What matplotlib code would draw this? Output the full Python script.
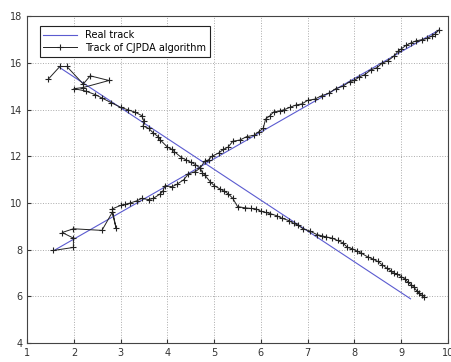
import numpy as np
import matplotlib
matplotlib.use('Agg')
import matplotlib.pyplot as plt

# real tracks of the two targets (straight lines)
real1_x = [1.6, 9.8]
real1_y = [8.0, 17.4]
real2_x = [1.7, 9.2]
real2_y = [15.8, 5.9]

# CJPDA estimated track, target 1 (going up)
trk1_x = [1.56, 1.99, 1.99, 1.75, 1.99, 2.6, 2.82, 2.9, 2.82, 3.0, 3.1, 3.2, 3.35, 3.45, 3.6,
          3.7, 3.85, 3.9, 3.95, 4.1, 4.2, 4.35, 4.45, 4.6, 4.7, 4.8, 4.88, 4.95, 5.1, 5.2,
          5.3, 5.4, 5.55, 5.7, 5.85, 5.95, 6.05, 6.1, 6.2, 6.27, 6.4, 6.5, 6.62, 6.75, 6.88,
          7.0, 7.15, 7.3, 7.45, 7.6, 7.75, 7.9, 8.0, 8.1, 8.22, 8.35, 8.48, 8.6, 8.72, 8.85,
          8.93, 9.0, 9.1, 9.2, 9.32, 9.45, 9.55, 9.65, 9.73, 9.8]
trk1_y = [7.97, 8.1, 8.5, 8.74, 8.9, 8.83, 9.6, 8.95, 9.75, 9.9, 9.95, 10.0, 10.1, 10.2, 10.15,
          10.2, 10.4, 10.5, 10.75, 10.7, 10.8, 11.0, 11.25, 11.35, 11.5, 11.8, 11.85, 12.0, 12.15, 12.3,
          12.4, 12.65, 12.7, 12.85, 12.9, 13.05, 13.2, 13.6, 13.75, 13.9, 13.95, 14.0, 14.1, 14.2, 14.25,
          14.4, 14.45, 14.6, 14.7, 14.9, 15.0, 15.2, 15.25, 15.4, 15.5, 15.7, 15.8, 16.0, 16.1, 16.3,
          16.5, 16.6, 16.75, 16.85, 16.95, 17.0, 17.05, 17.15, 17.25, 17.4]

# CJPDA estimated track, target 2 (going down)
trk2_x = [1.45, 1.7, 1.85, 2.2, 2.35, 2.75, 2.2, 2.0, 2.25, 2.45, 2.6, 2.8, 3.0, 3.15, 3.3,
          3.45, 3.5, 3.48, 3.6, 3.7, 3.8, 3.85, 4.0, 4.1, 4.15, 4.3, 4.4, 4.5, 4.6, 4.7,
          4.75, 4.8, 4.92, 5.0, 5.13, 5.22, 5.3, 5.4, 5.5, 5.65, 5.78, 5.9, 6.0, 6.1, 6.2,
          6.35, 6.45, 6.6, 6.7, 6.8, 6.9, 7.05, 7.2, 7.3, 7.4, 7.52, 7.64, 7.75, 7.85, 7.95,
          8.05, 8.15, 8.28, 8.4, 8.5, 8.6, 8.7, 8.78, 8.84, 8.92, 9.0, 9.08, 9.15, 9.22,
          9.27, 9.33, 9.38, 9.44, 9.48]
trk2_y = [15.3, 15.85, 15.85, 15.1, 15.45, 15.25, 14.95, 14.9, 14.8, 14.65, 14.5, 14.3, 14.1, 14.0, 13.9,
          13.75, 13.5, 13.3, 13.2, 13.0, 12.85, 12.7, 12.4, 12.3, 12.2, 11.95, 11.85, 11.75, 11.65, 11.5,
          11.3, 11.2, 10.9, 10.75, 10.6, 10.5, 10.4, 10.2, 9.85, 9.8, 9.77, 9.75, 9.65, 9.6, 9.55,
          9.45, 9.35, 9.25, 9.13, 9.05, 8.9, 8.8, 8.65, 8.6, 8.55, 8.5, 8.4, 8.3, 8.1, 8.05,
          7.95, 7.85, 7.7, 7.6, 7.5, 7.35, 7.2, 7.1, 7.0, 6.95, 6.85, 6.75, 6.6, 6.5,
          6.4, 6.25, 6.15, 6.05, 5.97]

fig = plt.figure(figsize=(4.52, 3.62), dpi=100)
ax = fig.add_axes([0.06, 0.052, 0.931, 0.903])

ax.plot(real1_x, real1_y, color='#5b5bd0', linewidth=0.8, label='Real track')
ax.plot(real2_x, real2_y, color='#5b5bd0', linewidth=0.8)
ax.plot(trk1_x, trk1_y, '-+', color='#222222', linewidth=0.7, markersize=5,
        markeredgewidth=0.8, label='Track of CJPDA algorithm')
ax.plot(trk2_x, trk2_y, '-+', color='#222222', linewidth=0.7, markersize=5,
        markeredgewidth=0.8)

ax.set_xlim(1, 10)
ax.set_ylim(4, 18)
ax.set_xticks(np.arange(1, 11, 1))
ax.set_yticks(np.arange(4, 19, 2))
ax.tick_params(direction='in', labelsize=7, colors='#333333', length=3)
ax.grid(True, linestyle=':', color='#aaaaaa', linewidth=0.7)
for s in ax.spines.values():
    s.set_color('#444444')

leg = ax.legend(loc='upper left', fontsize=7, fancybox=False, framealpha=1,
                edgecolor='#222222', handlelength=3.5, borderpad=0.4,
                labelspacing=0.3, bbox_to_anchor=(0.018, 0.985))
leg.get_frame().set_linewidth(0.8)

fig.savefig('out.png', dpi=100)
